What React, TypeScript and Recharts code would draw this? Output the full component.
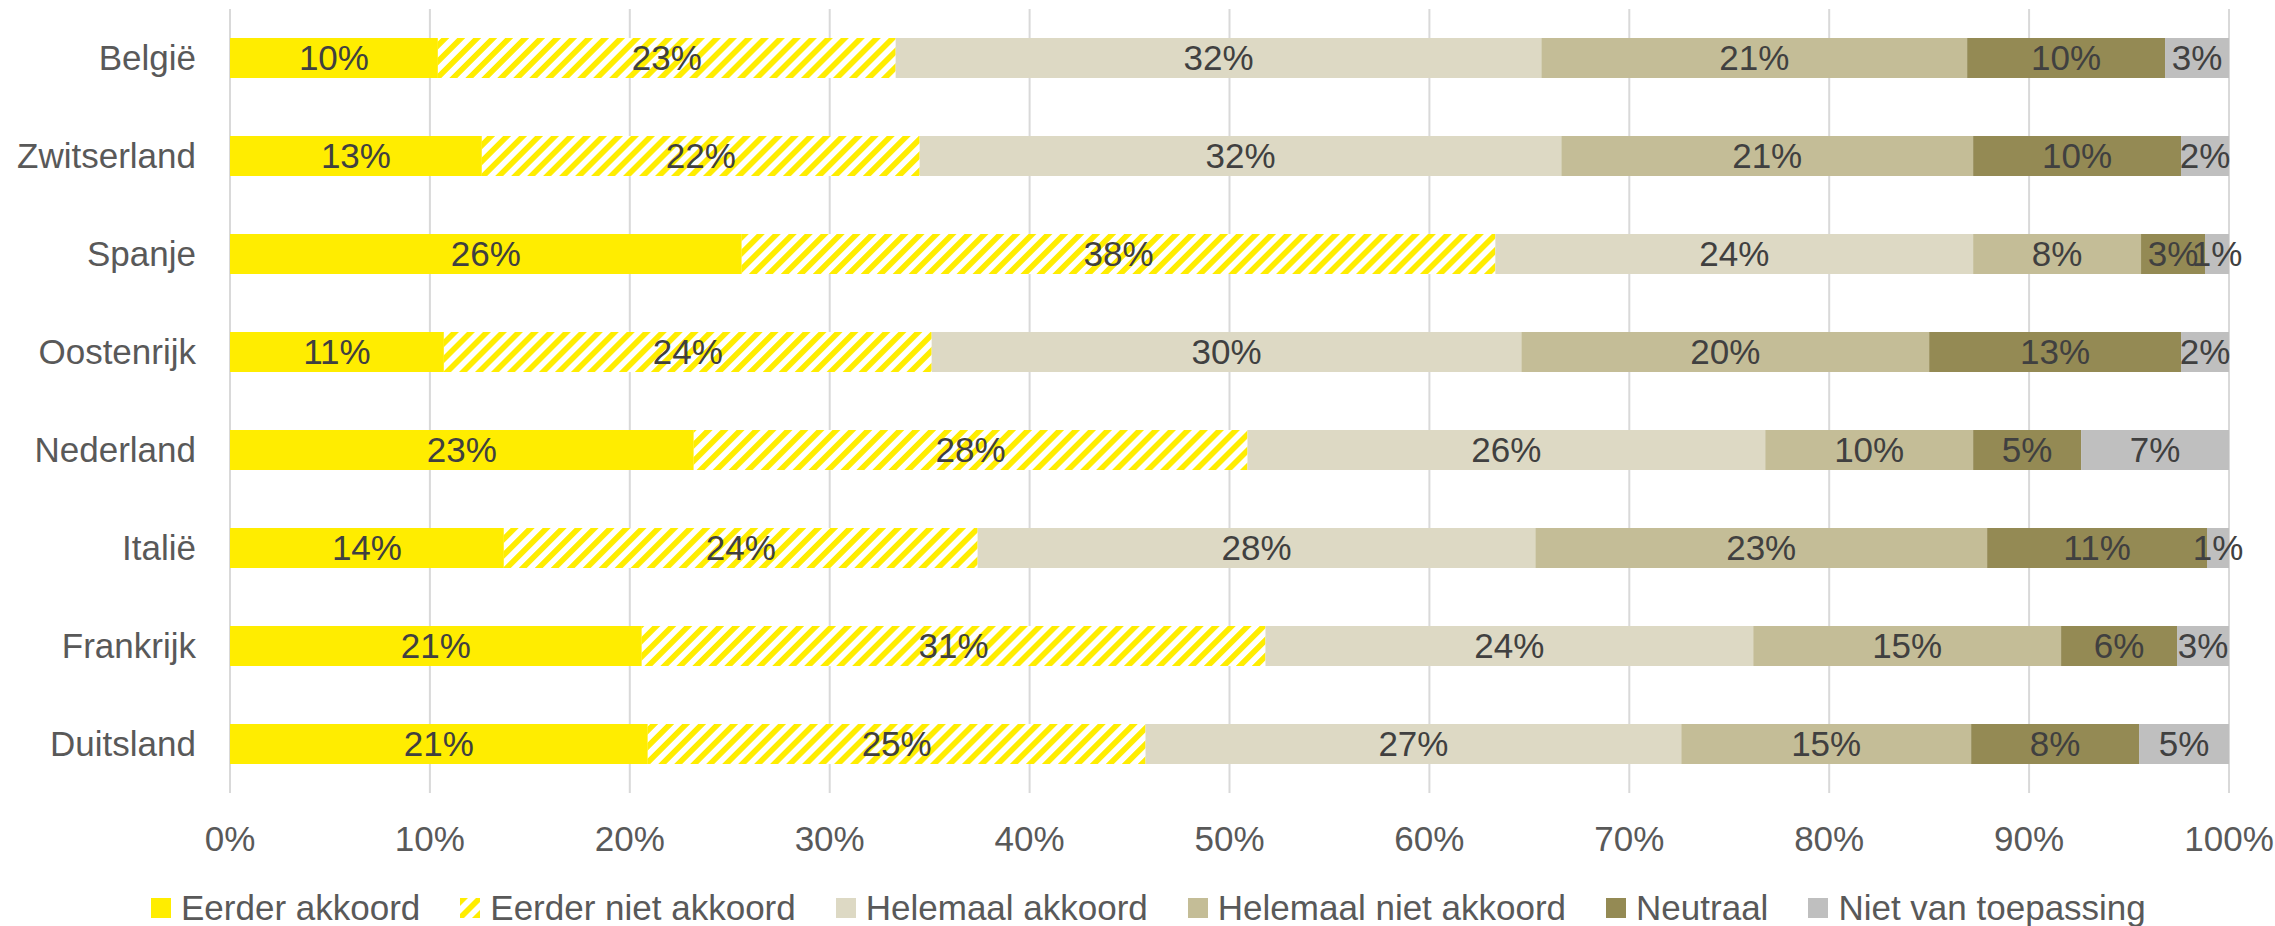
import React from "react";
import {
  BarChart,
  Bar,
  XAxis,
  YAxis,
  CartesianGrid,
  LabelList,
  Legend,
} from "recharts";

const countries = [
  "België",
  "Zwitserland",
  "Spanje",
  "Oostenrijk",
  "Nederland",
  "Italië",
  "Frankrijk",
  "Duitsland",
];
const eerderAkkoord = [10.4, 12.6, 25.6, 10.7, 23.2, 13.7, 20.6, 20.9];
const eerderNietAkkoord = [22.9, 21.9, 37.7, 24.4, 27.7, 23.7, 31.2, 24.9];
const helemaalAkkoord = [32.3, 32.1, 23.9, 29.5, 25.9, 27.9, 24.4, 26.8];
const helemaalNietAkkoord = [21.3, 20.6, 8.4, 20.4, 10.4, 22.6, 15.4, 14.5];
const neutraal = [9.9, 10.4, 3.2, 12.6, 5.4, 11.0, 5.8, 8.4];
const nietVanToepassing = [3.2, 2.4, 1.2, 2.4, 7.4, 1.1, 2.6, 4.5];
const xTicks = [0, 10, 20, 30, 40, 50, 60, 70, 80, 90, 100];

const FONT = "'Liberation Sans', Arial, sans-serif";
const YELLOW = "#FFED00";

const series = [
  { key: "eerderAkkoord", name: "Eerder akkoord", fill: YELLOW },
  { key: "eerderNietAkkoord", name: "Eerder niet akkoord", fill: "url(#hatch)", hatched: true },
  { key: "helemaalAkkoord", name: "Helemaal akkoord", fill: "#DDD9C4" },
  { key: "helemaalNietAkkoord", name: "Helemaal niet akkoord", fill: "#C4BD97" },
  { key: "neutraal", name: "Neutraal", fill: "#948A54" },
  { key: "nietVanToepassing", name: "Niet van toepassing", fill: "#BFBFBF" },
];

const data = countries.map((country, i) => ({
  country,
  eerderAkkoord: eerderAkkoord[i],
  eerderNietAkkoord: eerderNietAkkoord[i],
  helemaalAkkoord: helemaalAkkoord[i],
  helemaalNietAkkoord: helemaalNietAkkoord[i],
  neutraal: neutraal[i],
  nietVanToepassing: nietVanToepassing[i],
}));

const renderLegend = () => (
  <div
    style={{
      display: "flex",
      alignItems: "center",
      paddingLeft: 151,
      fontFamily: FONT,
      fontSize: 35,
      lineHeight: "36px",
      color: "#595959",
    }}
  >
    {series.map((s) => (
      <div key={s.key} style={{ display: "flex", alignItems: "center", marginRight: 40 }}>
        <svg width={20} height={20} style={{ marginRight: 10 }}>
          {s.hatched ? (
            <>
              <defs>
                <pattern
                  id="hatchLegend"
                  patternUnits="userSpaceOnUse"
                  width="11.3"
                  height="11.3"
                  patternTransform="rotate(45)"
                >
                  <rect width="11.3" height="11.3" fill="#fff" />
                  <rect width="5.6" height="11.3" fill={YELLOW} />
                </pattern>
              </defs>
              <rect width={20} height={20} fill="url(#hatchLegend)" />
            </>
          ) : (
            <rect width={20} height={20} fill={s.fill} />
          )}
        </svg>
        <span>{s.name}</span>
      </div>
    ))}
  </div>
);

export default function App() {
  return (
    <div style={{ position: "absolute", left: 0, top: 0, background: "#fff" }}>
      <BarChart
        width={2275}
        height={926}
        data={data}
        layout="vertical"
        margin={{ top: 9, right: 46, bottom: 0, left: 0 }}
        barSize={40}
      >
        <defs>
          <pattern
            id="hatch"
            patternUnits="userSpaceOnUse"
            width="11.3"
            height="11.3"
            patternTransform="rotate(45)"
          >
            <rect width="11.3" height="11.3" fill="#fff" />
            <rect width="5.6" height="11.3" fill={YELLOW} />
          </pattern>
        </defs>
        <CartesianGrid horizontal={false} stroke="#D9D9D9" strokeWidth={2} />
        <XAxis
          type="number"
          domain={[0, 100]}
          ticks={xTicks}
          allowDataOverflow
          tickFormatter={(v) => `${v}%`}
          axisLine={false}
          tickLine={false}
          tickSize={0}
          tickMargin={33}
          height={97}
          tick={{ fill: "#595959", fontSize: 35, fontFamily: FONT }}
        />
        <YAxis
          type="category"
          dataKey="country"
          width={230}
          axisLine={false}
          tickLine={false}
          tickSize={0}
          tickMargin={34}
          tick={{ fill: "#595959", fontSize: 35, fontFamily: FONT }}
        />
        <Legend verticalAlign="bottom" align="left" content={renderLegend} />
        {series.map((s) => (
          <Bar
            key={s.key}
            dataKey={s.key}
            name={s.name}
            stackId="a"
            fill={s.fill}
            isAnimationActive={false}
          >
            <LabelList
              dataKey={s.key}
              position="center"
              formatter={(v: number) => `${Math.round(v)}%`}
              fill="#404040"
              fontSize={35}
              fontFamily={FONT}
            />
          </Bar>
        ))}
      </BarChart>
    </div>
  );
}
